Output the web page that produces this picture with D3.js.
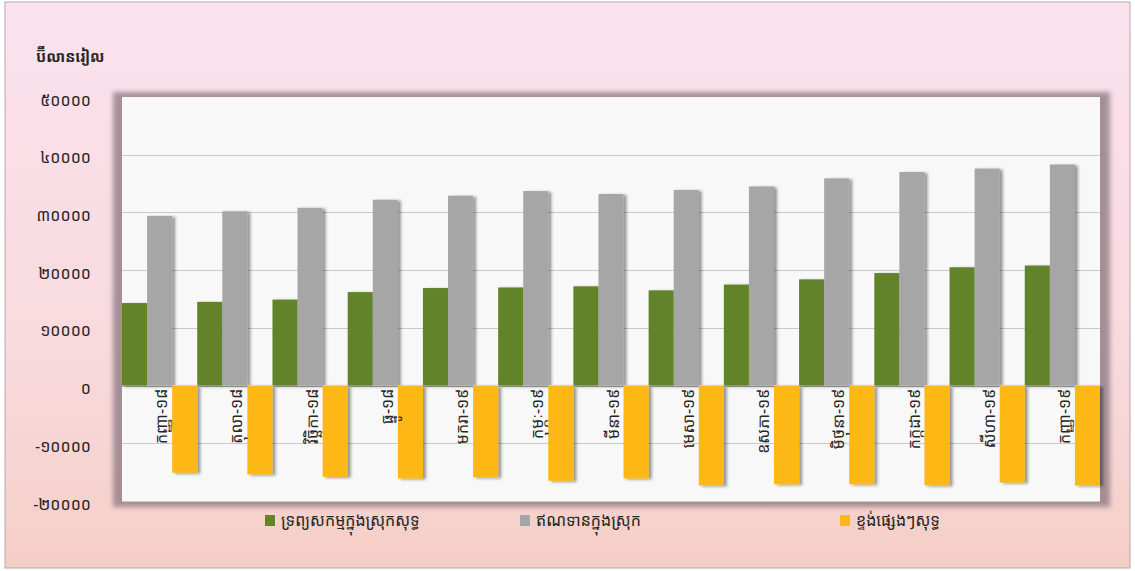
<!DOCTYPE html>
<html>
<head>
<meta charset="utf-8">
<script src="https://cdn.jsdelivr.net/npm/d3@7"></script>
<style>
  body { margin: 0; background: #fff; }
  svg { display: block; }
  text { font-family: "Noto Sans Khmer", "Khmer OS", "Khmer OS System", "DejaVu Sans", sans-serif; fill: #262626; }
</style>
</head>
<body>
<svg id="chart" width="1135" height="571"></svg>
<script>
// months (Khmer), Sep-2018 .. Sep-2019
var categories = ["កញ្ញា-១៨", "តុលា-១៨", "វិច្ឆិកា-១៨", "ធ្នូ-១៨", "មករា-១៩", "កុម្ភៈ-១៩",
                  "មីនា-១៩", "មេសា-១៩", "ឧសភា-១៩", "មិថុនា-១៩", "កក្កដា-១៩", "សីហា-១៩", "កញ្ញា-១៩"];

// billion riel
var netAssets = [14300, 14500, 14900, 16200, 16900, 17000, 17200, 16500, 17500, 18400, 19500, 20500, 20800];
var credit    = [29400, 30200, 30800, 32200, 32900, 33700, 33200, 33900, 34500, 35900, 37000, 37600, 38300];
var otherNet  = [-15100, -15400, -15800, -16100, -15900, -16500, -16100, -17300, -17100, -17100, -17300, -16800, -17300];

var seriesNames = ["ទ្រព្យសកម្មក្នុងស្រុកសុទ្ធ", "ឥណទានក្នុងស្រុក", "ខ្ទង់ផ្សេងៗសុទ្ធ"];
var yTicks = [-20000, -10000, 0, 10000, 20000, 30000, 40000, 50000];
var yTitle = "ប៊ីលានរៀល";

var colors = ["#64832a", "#a6a6a6", "#fdb813"];

var svg = d3.select("#chart"),
    width = +svg.attr("width"),
    height = +svg.attr("height");

var margin = {left: 122, right: 35, top: 97, bottom: 70};

// khmer digits for tick labels
function khmer(n) {
  var digits = "០១២៣៤៥៦៧៨៩";
  return String(n).replace(/[0-9]/g, function(c) { return digits[+c]; });
}

var defs = svg.append("defs");
var bg = defs.append("linearGradient").attr("id", "bg").attr("x1", 0).attr("y1", 0).attr("x2", 0).attr("y2", 1);
bg.append("stop").attr("offset", "0%").attr("stop-color", "#fbe2ee");
bg.append("stop").attr("offset", "60%").attr("stop-color", "#f8dade");
bg.append("stop").attr("offset", "100%").attr("stop-color", "#f5cfc6");

var blur = defs.append("filter").attr("id", "panelShadow").attr("x", "-5%").attr("y", "-5%").attr("width", "110%").attr("height", "110%");
blur.append("feGaussianBlur").attr("stdDeviation", 2.5);

var barShadow = defs.append("filter").attr("id", "barShadow").attr("x", "-30%").attr("y", "-10%").attr("width", "160%").attr("height", "120%");
barShadow.append("feDropShadow").attr("dx", 3).attr("dy", 1).attr("stdDeviation", 1.5)
  .attr("flood-color", "#000").attr("flood-opacity", 0.4);

// page background
svg.append("rect").attr("width", width).attr("height", height).attr("fill", "#fff");
svg.append("rect")
    .attr("x", 5).attr("y", 2).attr("width", width - 10).attr("height", height - 5)
    .attr("fill", "url(#bg)")
    .attr("stroke", "#b9a7ad").attr("stroke-width", 1);

var x = d3.scaleBand()
    .domain(categories)
    .range([margin.left, width - margin.right])
    .padding(0);

var xSub = d3.scaleBand()
    .domain([0, 1, 2])
    .range([0, x.bandwidth()])
    .padding(0);

var y = d3.scaleLinear()
    .domain([-20000, 50000])
    .range([501, margin.top]);

var x0 = margin.left, x1 = width - margin.right;

// panel with shadow frame
svg.append("rect")
    .attr("x", x0 - 9).attr("y", y(50000) - 5)
    .attr("width", x1 - x0 + 19).attr("height", y(-20000) - y(50000) + 11)
    .attr("fill", "#96828a").attr("opacity", 0.85)
    .attr("filter", "url(#panelShadow)");
svg.append("rect")
    .attr("x", x0).attr("y", y(50000))
    .attr("width", x1 - x0).attr("height", y(-20000) - y(50000))
    .attr("fill", "#f8f8f8");

// gridlines
svg.append("g")
  .selectAll("line")
  .data(yTicks.filter(function(d) { return d !== 50000; }))
  .enter().append("line")
    .attr("x1", x0).attr("x2", x1)
    .attr("y1", function(d) { return Math.round(y(d)) + 0.5; })
    .attr("y2", function(d) { return Math.round(y(d)) + 0.5; })
    .attr("stroke", function(d) { return d === 0 ? "#b0b0b0" : "#c9c9c9"; })
    .attr("stroke-width", 1);

// y axis labels
var yAxis = d3.axisLeft(y)
    .tickValues(yTicks)
    .tickSize(0)
    .tickPadding(0)
    .tickFormat(function(d) { return khmer(d); });

svg.append("g")
    .attr("transform", "translate(91,3)")
    .call(yAxis)
    .call(function(g) { g.select(".domain").remove(); })
    .selectAll("text")
      .attr("font-size", 16)
      .attr("fill", "#262626");

svg.append("text")
    .attr("x", 36).attr("y", 62)
    .attr("font-size", 15)
    .attr("font-weight", "bold")
    .text(yTitle);

// bars
var series = [netAssets, credit, otherNet];
var bars = svg.append("g").attr("filter", "url(#barShadow)");

series.forEach(function(vals, si) {
  bars.append("g")
    .selectAll("rect")
    .data(vals)
    .enter().append("rect")
      .attr("x", function(d, i) { return x(categories[i]) + xSub(si); })
      .attr("width", xSub.bandwidth())
      .attr("y", function(d) { return y(Math.max(0, d)); })
      .attr("height", function(d) { return Math.abs(y(d) - y(0)); })
      .attr("fill", colors[si]);
});

// category labels, rotated
svg.append("g")
  .selectAll("text")
  .data(categories)
  .enter().append("text")
    .attr("transform", function(d) {
      return "translate(" + (x(d) + x.bandwidth() / 2 + 2) + "," + (y(0) + 3) + ") rotate(-90)";
    })
    .attr("text-anchor", "end")
    .attr("dy", "0.35em")
    .attr("font-size", 16)
    .text(function(d) { return d; });

// legend
var legendX = [265, 520, 840];
var legend = svg.append("g")
  .selectAll("g")
  .data(seriesNames)
  .enter().append("g")
    .attr("transform", function(d, i) { return "translate(" + legendX[i] + ",515)"; });

legend.append("rect")
    .attr("width", 10).attr("height", 11)
    .attr("fill", function(d, i) { return colors[i]; });

legend.append("text")
    .attr("x", 16).attr("y", 11)
    .attr("font-size", 16)
    .text(function(d) { return d; });
</script>
</body>
</html>
